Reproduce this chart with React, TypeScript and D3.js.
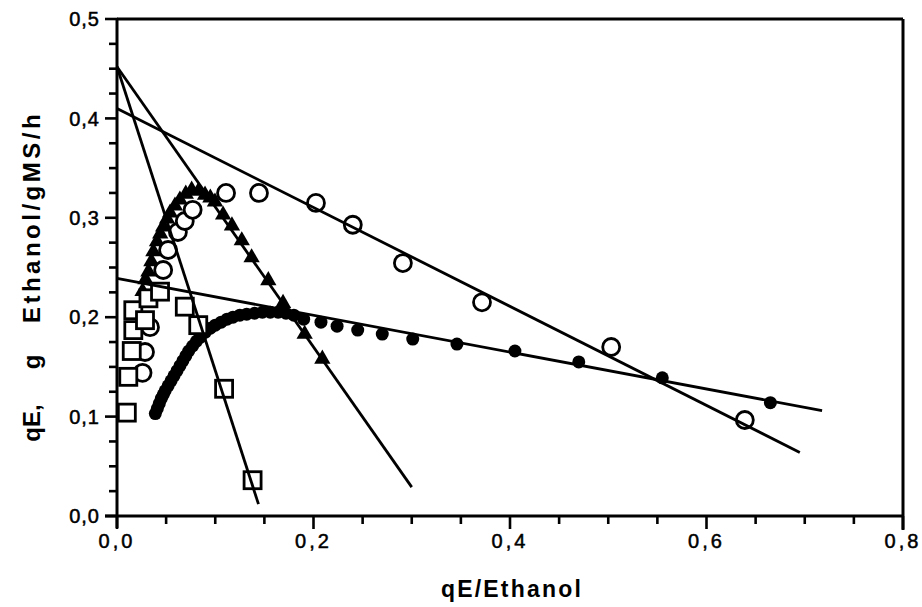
import React from "react";
import * as d3 from "d3";

// ---- data ----
const openCircleX = [0.026, 0.0285, 0.0336, 0.047, 0.052, 0.062, 0.069, 0.077, 0.111, 0.1445, 0.2025, 0.240, 0.291, 0.3715, 0.503, 0.639];
const openCircleY = [0.144, 0.165, 0.190, 0.2475, 0.2676, 0.2857, 0.2968, 0.308, 0.325, 0.325, 0.315, 0.293, 0.2545, 0.215, 0.170, 0.0966];

const triangleX = [0.026, 0.029, 0.032, 0.035, 0.037, 0.0407, 0.044, 0.047, 0.051, 0.054, 0.059, 0.064, 0.070, 0.076, 0.083, 0.0896, 0.095, 0.0997, 0.108, 0.117, 0.127, 0.137, 0.154, 0.169, 0.191, 0.209];
const triangleY = [0.226, 0.238, 0.2458, 0.256, 0.266, 0.276, 0.284, 0.291, 0.299, 0.305, 0.312, 0.318, 0.324, 0.328, 0.327, 0.323, 0.320, 0.316, 0.303, 0.292, 0.277, 0.260, 0.237, 0.214, 0.183, 0.158];

const dotX = [0.039, 0.041, 0.043, 0.045, 0.047, 0.049, 0.052, 0.055, 0.058, 0.061, 0.064, 0.067, 0.070, 0.073, 0.077, 0.081, 0.085, 0.090, 0.095, 0.100, 0.106, 0.112, 0.118, 0.125, 0.132, 0.140, 0.148, 0.156, 0.164, 0.172, 0.180, 0.190, 0.2076, 0.224, 0.245, 0.270, 0.301, 0.346, 0.405, 0.470, 0.555, 0.665];
const dotY = [0.103, 0.108, 0.113, 0.118, 0.122, 0.126, 0.131, 0.136, 0.141, 0.146, 0.151, 0.156, 0.161, 0.166, 0.171, 0.176, 0.180, 0.185, 0.189, 0.192, 0.195, 0.198, 0.200, 0.202, 0.203, 0.204, 0.205, 0.205, 0.205, 0.204, 0.202, 0.198, 0.195, 0.191, 0.187, 0.183, 0.178, 0.173, 0.166, 0.155, 0.139, 0.114];

const squareX = [0.010, 0.0115, 0.015, 0.0166, 0.0166, 0.0285, 0.032, 0.0438, 0.069, 0.0827, 0.109, 0.138];
const squareY = [0.104, 0.140, 0.166, 0.187, 0.207, 0.197, 0.219, 0.2257, 0.2106, 0.192, 0.128, 0.036];

// regression lines: [x0, y0, x1, y1]
const fitSquare = [0, 0.452, 0.144, 0.012];
const fitTriangle = [0, 0.452, 0.300, 0.029];
const fitCircle = [0, 0.410, 0.695, 0.064];
const fitDot = [0, 0.239, 0.7176, 0.106];

const xTickValues = [0, 0.2, 0.4, 0.6, 0.8];
const xTickLabels = ["0,0", "0,2", "0,4", "0,6", "0,8"];
const yTickValues = [0, 0.1, 0.2, 0.3, 0.4, 0.5];
const yTickLabels = ["0,0", "0,1", "0,2", "0,3", "0,4", "0,5"];

const xTitle = "qE/Ethanol";
const yTitleParts = ["qE,", "g", "Ethanol/gMS/h"];

export default function App() {
  const W = 922, H = 607;
  const x = d3.scaleLinear().domain([0, 0.8]).range([117, 903]);
  const y = d3.scaleLinear().domain([0, 0.5]).range([516, 19]);

  const xMinor = d3.range(0, 0.8001, 0.05);
  const yMinor = d3.range(0, 0.5001, 0.025);

  const fits = [fitSquare, fitTriangle, fitCircle, fitDot];
  const lineGen = d3.line<[number, number]>().x(d => x(d[0])).y(d => y(d[1]));

  const tri = d3.symbol().type(d3.symbolTriangle).size(115)();
  const font = "'Liberation Sans', Arial, Helvetica, sans-serif";

  return (
    <svg width={W} height={H} viewBox={`0 0 ${W} ${H}`} style={{ position: "absolute", left: 0, top: 0, background: "#fff" }}>
      <rect x={0} y={0} width={W} height={H} fill="#fff" />
      {/* frame */}
      <line x1={x(0)} x2={x(0.8)} y1={y(0.5)} y2={y(0.5)} stroke="#000" strokeWidth={3} />
      <line x1={x(0.8)} x2={x(0.8)} y1={y(0.5)} y2={y(0) + 14} stroke="#000" strokeWidth={3} />
      <line x1={x(0) - 12} x2={x(0.8)} y1={y(0)} y2={y(0)} stroke="#000" strokeWidth={3} />
      <line x1={x(0)} x2={x(0)} y1={y(0.5)} y2={y(0) + 12} stroke="#000" strokeWidth={3} />
      {/* y ticks */}
      {yMinor.map((v, i) => {
        const major = i % 4 === 0;
        return <line key={"ym" + i} x1={x(0) - (major ? 12 : 8)} x2={x(0) + 1} y1={y(v)} y2={y(v)} stroke="#000" strokeWidth={2.6} />;
      })}
      {/* x ticks */}
      {xMinor.map((v, i) => {
        const major = i % 4 === 0;
        return <line key={"xm" + i} x1={x(v)} x2={x(v)} y1={y(0)} y2={y(0) + (major ? 13 : 8)} stroke="#000" strokeWidth={2.6} />;
      })}
      {/* tick labels */}
      {yTickValues.map((v, i) => (
        <text key={"yl" + i} x={x(0) - 17} y={y(v)} dy="0.36em" textAnchor="end" fontFamily={font} fontSize={20} letterSpacing={1} stroke="#000" strokeWidth={0.5} fill="#000">{yTickLabels[i]}</text>
      ))}
      {xTickValues.map((v, i) => (
        <text key={"xl" + i} x={x(v)} y={548} textAnchor="middle" fontFamily={font} fontSize={20} letterSpacing={3} stroke="#000" strokeWidth={0.5} fill="#000">{xTickLabels[i]}</text>
      ))}
      {/* axis titles */}
      <text x={512} y={597} textAnchor="middle" fontFamily={font} fontWeight="bold" fontSize={23} letterSpacing={2.2} fill="#000">{xTitle}</text>
      <g transform="translate(40,0) rotate(-90)">
        <text x={-423} y={0} textAnchor="middle" fontFamily={font} fontWeight="bold" fontSize={24} fill="#000">{yTitleParts[0]}</text>
        <text x={-362} y={0} textAnchor="middle" fontFamily={font} fontWeight="bold" fontSize={24} fill="#000">{yTitleParts[1]}</text>
        <text x={-217} y={0} textAnchor="middle" fontFamily={font} fontWeight="bold" fontSize={24} letterSpacing={3.5} fill="#000">{yTitleParts[2]}</text>
      </g>
      {/* markers */}
      {dotX.map((v, i) => (
        <circle key={"d" + i} cx={x(v)} cy={y(dotY[i])} r={6.5} fill="#000" />
      ))}
      {triangleX.map((v, i) => (
        <path key={"t" + i} d={tri!} transform={`translate(${x(v)},${y(triangleY[i])})`} fill="#000" />
      ))}
      {openCircleX.map((v, i) => (
        <circle key={"c" + i} cx={x(v)} cy={y(openCircleY[i])} r={8.5} fill="#fff" stroke="#000" strokeWidth={2.8} />
      ))}
      {squareX.map((v, i) => (
        <rect key={"s" + i} x={x(v) - 8.5} y={y(squareY[i]) - 8.5} width={17} height={17} fill="#fff" stroke="#000" strokeWidth={2.8} />
      ))}
      {/* fitted lines */}
      {fits.map((f, i) => (
        <path key={"f" + i} d={lineGen([[f[0], f[1]], [f[2], f[3]]])!} fill="none" stroke="#000" strokeWidth={2.8} />
      ))}
    </svg>
  );
}
